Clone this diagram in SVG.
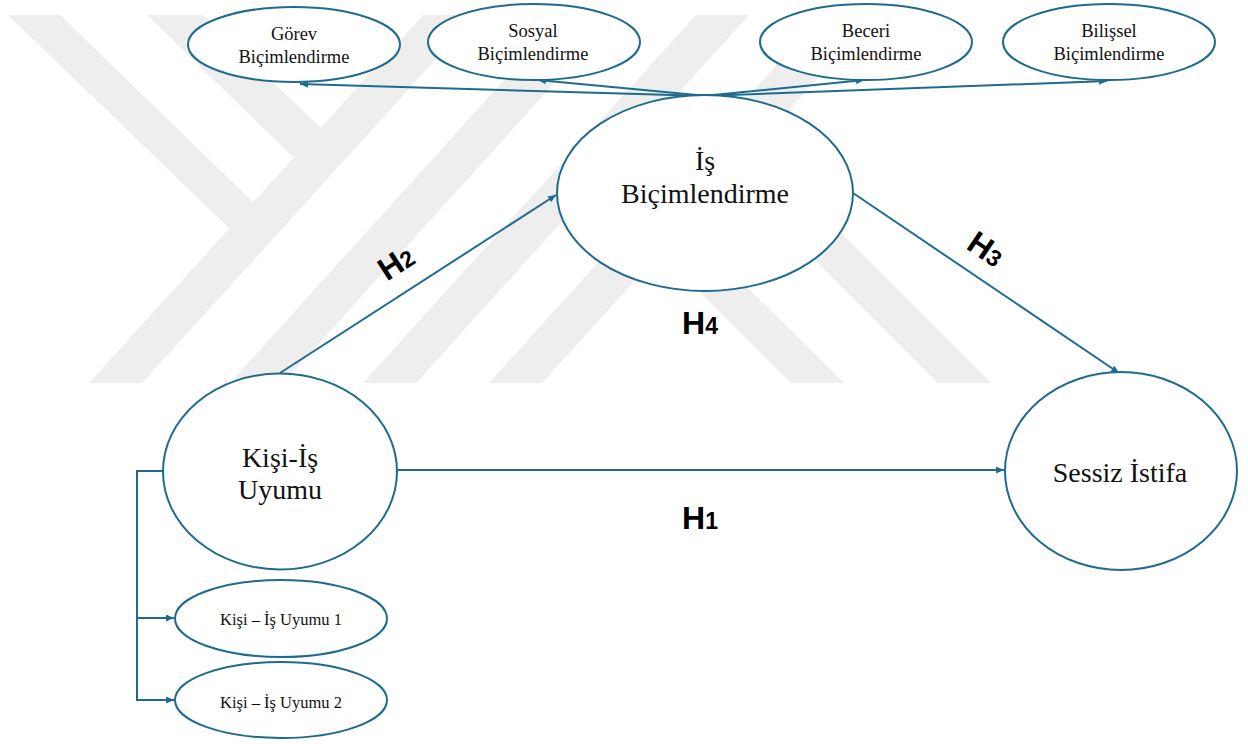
<svg xmlns="http://www.w3.org/2000/svg" width="1248" height="744" viewBox="0 0 1248 744">
<style>
.wm{fill:#eeeeee;stroke:none}
.node{fill:#ffffff;stroke:#1f6b8e;stroke-width:2}
.edge{fill:none;stroke:#1f6b8e;stroke-width:2}
.t{font-family:"Liberation Serif","Times New Roman",serif;fill:#111111;text-anchor:middle}
.s{font-size:18.5px}
.m{font-size:16.5px}
.b{font-size:28px}
.h{font-family:"Liberation Sans",Arial,sans-serif;font-weight:bold;fill:#000000;text-anchor:middle;font-size:32px}
.d{font-size:23px}
</style>
<defs>
<marker id="arr" markerWidth="9" markerHeight="8" refX="8" refY="3.5" orient="auto" markerUnits="userSpaceOnUse">
<path d="M0,0 L8,3.5 L0,7 z" fill="#1f6b8e"/>
</marker>
</defs>
<rect x="0" y="0" width="1248" height="744" fill="#ffffff"/>
<g id="watermark">
<polygon class="wm" points="8,15 60,15 254,203 230,229"/>
<polygon class="wm" points="147,15 203,15 322,129 294,158"/>
<polygon class="wm" points="89,383 142,383 476,15 423,15"/>
<polygon class="wm" points="230,383 283,383 616,15 563,15"/>
<polygon class="wm" points="363,383 416,383 749,15 696,15"/>
<polygon class="wm" points="489,383 542,383 875,15 822,15"/>
<polygon class="wm" points="791,383 844,383 689,230 638,230"/>
<polygon class="wm" points="938,383 991,383 808,200 755,200"/>
</g>
<g id="connectors">
<path class="edge" d="M707,96 L300,84" marker-end="url(#arr)"/>
<path class="edge" d="M707,96 L538,80" marker-end="url(#arr)"/>
<path class="edge" d="M703,96 L864,80" marker-end="url(#arr)"/>
<path class="edge" d="M703,96 L1107,81" marker-end="url(#arr)"/>
<path class="edge" d="M280,373 L556,195" marker-end="url(#arr)"/>
<path class="edge" d="M853,193 L1119,373" marker-end="url(#arr)"/>
<path class="edge" d="M397,470 L1004,470" marker-end="url(#arr)"/>
<path class="edge" d="M163,471 H137 V618 H174" marker-end="url(#arr)"/>
<path class="edge" d="M137,618 V700 H174" marker-end="url(#arr)"/>
</g>
<g id="gorev">
<ellipse class="node" cx="294" cy="44.5" rx="106" ry="37.5"/>
<text class="t s" x="294" y="40">Görev</text>
<text class="t s" x="294" y="63">Biçimlendirme</text>
</g>
<g id="sosyal">
<ellipse class="node" cx="534" cy="42" rx="106" ry="38"/>
<text class="t s" x="533" y="37">Sosyal</text>
<text class="t s" x="533" y="60">Biçimlendirme</text>
</g>
<g id="beceri">
<ellipse class="node" cx="866" cy="42" rx="106" ry="38"/>
<text class="t s" x="866" y="37">Beceri</text>
<text class="t s" x="866" y="60">Biçimlendirme</text>
</g>
<g id="bilissel">
<ellipse class="node" cx="1109" cy="42" rx="106" ry="38"/>
<text class="t s" x="1109" y="37">Bilişsel</text>
<text class="t s" x="1109" y="60">Biçimlendirme</text>
</g>
<g id="is-bicimlendirme">
<ellipse class="node" cx="705" cy="193" rx="148" ry="98"/>
<text class="t b" x="705" y="170">İş</text>
<text class="t b" x="705" y="203">Biçimlendirme</text>
</g>
<g id="kisi-is-uyumu">
<ellipse class="node" cx="280" cy="471.5" rx="117" ry="98"/>
<text class="t b" x="280" y="467">Kişi-İş</text>
<text class="t b" x="280" y="499">Uyumu</text>
</g>
<g id="kisi-is-uyumu-1">
<ellipse class="node" cx="281" cy="618.5" rx="106" ry="38.5"/>
<text class="t m" x="281" y="625">Kişi – İş Uyumu 1</text>
</g>
<g id="kisi-is-uyumu-2">
<ellipse class="node" cx="281" cy="700" rx="106" ry="38"/>
<text class="t m" x="281" y="708">Kişi – İş Uyumu 2</text>
</g>
<g id="sessiz-istifa">
<ellipse class="node" cx="1121" cy="471" rx="116" ry="99"/>
<text class="t b" x="1120" y="482">Sessiz İstifa</text>
</g>
<g id="labels">
<text class="h" x="700" y="529">H<tspan class="d">1</tspan></text>
<text class="h" x="700" y="334">H<tspan class="d">4</tspan></text>
<text class="h" transform="translate(402,272) rotate(-33)" x="0" y="0">H<tspan class="d">2</tspan></text>
<text class="h" transform="translate(980,258) rotate(34)" x="0" y="0">H<tspan class="d">3</tspan></text>
</g>
</svg>
